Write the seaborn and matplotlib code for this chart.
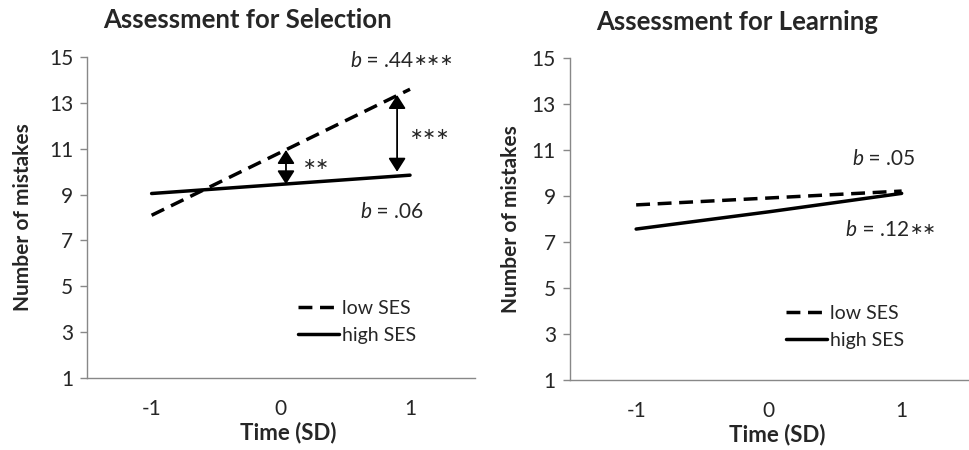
import matplotlib
matplotlib.use("Agg")
import pandas as pd
import seaborn as sns
import matplotlib.pyplot as plt
from matplotlib.ticker import FixedLocator

# Dados
time = [-1, 0, 1]
sel_low = [8.1, 10.85, 13.6]
sel_high = [9.05, 9.45, 9.85]
learn_low = [8.6, 8.9, 9.2]
learn_high = [7.55, 8.3, 9.1]
groups = ["low SES", "high SES"]
titles = ["Assessment for Selection", "Assessment for Learning"]
yticks = [1, 3, 5, 7, 9, 11, 13, 15]

# setas de diferença (painel Selection): x, topo, base
arrows = [(0.04, 10.95, 9.45), (0.9, 13.35, 10.0)]

sns.set_style("white")
plt.rcParams["font.family"] = ["Lato", "DejaVu Sans"]
FAM = ["Lato", "DejaVu Sans"]
AST = "\u2217"

fig = plt.figure(figsize=(9.69, 4.5), dpi=100)
ax1 = fig.add_axes([0.0898, 0.16, 0.400, 0.713])
ax2 = fig.add_axes([0.588, 0.156, 0.411, 0.716])


def make_df(low, high):
    return pd.DataFrame({
        "time": time * 2,
        "mistakes": low + high,
        "group": [groups[0]] * 3 + [groups[1]] * 3,
    })


def coef(ax, x, y, rest, stars=""):
    # "b" em itálico + resto do texto + asteriscos menores
    ax.text(x, y, "b", fontsize=15, style="italic", ha="right", va="center", family=FAM)
    t = ax.text(x, y, " = " + rest, fontsize=15, ha="left", va="center", family=FAM)
    if stars:
        ax.annotate(stars, xy=(1, 0.5), xycoords=t, xytext=(1, 0), textcoords="offset points",
                    fontsize=11.5, ha="left", va="center", family=FAM)


for ax, (low, high), anchor in zip([ax1, ax2], [(sel_low, sel_high), (learn_low, learn_high)],
                                   [(0.51, 0.285), (0.51, 0.275)]):
    df = make_df(low, high)
    sns.lineplot(data=df, x="time", y="mistakes", hue="group", style="group",
                 palette=["black", "black"], dashes={"low SES": (4, 2.2), "high SES": ""},
                 linewidth=2.5, ax=ax)
    ax.set_xlim(-1.5, 1.5)
    ax.set_ylim(1, 15)
    ax.set_yticks(yticks)
    ax.set_xticks(time)
    ax.set_xticklabels(["-1", "0", "1"])
    ax.xaxis.set_minor_locator(FixedLocator([-1.5, -0.5, 0.5, 1.5]))
    ax.tick_params(axis="x", which="major", length=0, pad=15, labelsize=15)
    ax.tick_params(axis="x", which="minor", length=5, color="#888888", width=1, direction="out")
    ax.tick_params(axis="y", length=5, color="#888888", width=1, direction="out", pad=5, labelsize=15,
                   left=True)
    for s in ["top", "right"]:
        ax.spines[s].set_visible(False)
    for s in ["left", "bottom"]:
        ax.spines[s].set_color("#888888")
        ax.spines[s].set_linewidth(1)
    ax.set_xlabel("Time (SD)", fontsize=16, fontweight="bold")
    ax.set_ylabel("Number of mistakes", fontsize=15, fontweight="bold")
    ax.xaxis.set_label_coords(0.52, -0.135)
    leg = ax.legend(loc="upper left", bbox_to_anchor=anchor, frameon=False, fontsize=14,
                    handlelength=2.1, handletextpad=0.15, labelspacing=0.5, borderpad=0.2)
    for line in leg.get_lines():
        line.set_linewidth(2.5)

ax1.yaxis.set_label_coords(-0.14, 0.5)
ax2.yaxis.set_label_coords(-0.123, 0.5)
fig.text(248 / 969, 1 - 20 / 450, titles[0], fontsize=18.5, fontweight="bold", ha="center", va="center")
fig.text(737 / 969, 1 - 22 / 450, titles[1], fontsize=18.5, fontweight="bold", ha="center", va="center")

# setas e asteriscos
for x, top, bottom in arrows:
    ax1.annotate("", xy=(x, top), xytext=(x, bottom),
                 arrowprops=dict(arrowstyle="<|-|>,head_length=0.55,head_width=0.35", color="black",
                                 lw=1.3, mutation_scale=15, shrinkA=0, shrinkB=0))
ax1.text(0.17, 10.3, AST * 2, fontsize=11.5, ha="left", va="center", family=FAM)
ax1.text(1.0, 11.6, AST * 3, fontsize=11.5, ha="left", va="center", family=FAM)

# coeficientes b
coef(ax1, 0.62, 14.85, ".44", AST * 3)
coef(ax1, 0.70, 8.25, ".06")
coef(ax2, 0.71, 10.6, ".05")
coef(ax2, 0.66, 7.5, ".12", AST * 2)

fig.savefig("out.png", dpi=100)
